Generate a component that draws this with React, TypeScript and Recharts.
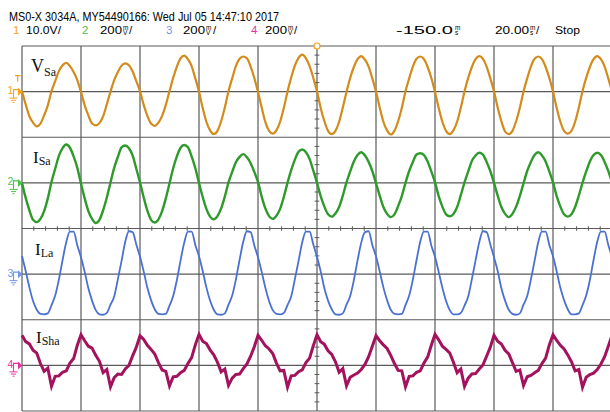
import React from 'react';
import {LineChart, Line, XAxis, YAxis, ReferenceLine, ReferenceDot} from 'recharts';

// scope capture: 20 ms/div, 10 div, one sample every 1.25 ms (16 per 50 Hz cycle)
// values are in screen divisions, measured from each channel's ground marker
const SAMPLE_MS = 1.25;

// ch1, V_Sa
const vSa = [
    0.01, -0.28, -0.54, -0.68, -0.76, -0.70, -0.52, -0.30, 0.01, 0.23, 0.45, 0.58, 0.63, 0.56, 0.43, 0.25,
    -0.01, -0.30, -0.52, -0.70, -0.74, -0.69, -0.54, -0.28, 0.00, 0.25, 0.43, 0.57, 0.62, 0.58, 0.44, 0.23,
    0.01, -0.29, -0.53, -0.70, -0.75, -0.68, -0.53, -0.29, 0.01, 0.30, 0.55, 0.73, 0.79, 0.71, 0.56, 0.29,
    0.00, -0.36, -0.66, -0.85, -0.93, -0.86, -0.65, -0.35, 0.01, 0.29, 0.56, 0.72, 0.77, 0.73, 0.55, 0.30,
    -0.01, -0.35, -0.67, -0.86, -0.92, -0.85, -0.66, -0.36, 0.00, 0.31, 0.57, 0.74, 0.81, 0.73, 0.56, 0.30,
    0.01, -0.36, -0.65, -0.86, -0.93, -0.86, -0.66, -0.35, -0.01, 0.30, 0.54, 0.71, 0.78, 0.70, 0.55, 0.29,
    0.00, -0.35, -0.66, -0.85, -0.94, -0.86, -0.65, -0.36, 0.01, 0.29, 0.55, 0.72, 0.77, 0.71, 0.54, 0.30,
    -0.01, -0.36, -0.66, -0.86, -0.93, -0.85, -0.66, -0.35, 0.00, 0.30, 0.54, 0.71, 0.78, 0.72, 0.55, 0.29,
    0.01, -0.35, -0.65, -0.87, -0.93, -0.86, -0.65, -0.36, 0.00, 0.29, 0.55, 0.72, 0.77, 0.71, 0.54, 0.30,
    0.00, -0.36, -0.66, -0.86, -0.92, -0.86, -0.66, -0.35, 0.01, 0.30, 0.54, 0.71, 0.78, 0.71, 0.55, 0.29,
    0.00,
];

// ch2, I_Sa
const iSa = [
    0.00, -0.33, -0.60, -0.81, -0.86, -0.79, -0.62, -0.34, 0.02, 0.31, 0.59, 0.76, 0.84, 0.77, 0.58, 0.33,
    -0.02, -0.34, -0.62, -0.79, -0.88, -0.81, -0.60, -0.32, 0.01, 0.33, 0.57, 0.78, 0.82, 0.76, 0.60, 0.31,
    0.01, -0.32, -0.61, -0.81, -0.87, -0.80, -0.62, -0.34, -0.01, 0.32, 0.58, 0.77, 0.83, 0.78, 0.58, 0.32,
    0.00, -0.31, -0.57, -0.74, -0.80, -0.73, -0.56, -0.30, 0.01, 0.24, 0.45, 0.57, 0.63, 0.56, 0.43, 0.24,
    0.02, -0.30, -0.56, -0.73, -0.79, -0.72, -0.57, -0.31, 0.00, 0.28, 0.51, 0.68, 0.73, 0.67, 0.52, 0.27,
    0.00, -0.29, -0.52, -0.69, -0.74, -0.67, -0.53, -0.28, 0.01, 0.25, 0.47, 0.61, 0.67, 0.60, 0.46, 0.26,
    -0.01, -0.28, -0.53, -0.68, -0.75, -0.69, -0.51, -0.29, 0.00, 0.26, 0.46, 0.62, 0.65, 0.61, 0.47, 0.25,
    0.01, -0.29, -0.52, -0.69, -0.73, -0.68, -0.53, -0.27, 0.01, 0.25, 0.48, 0.60, 0.66, 0.62, 0.46, 0.26,
    0.00, -0.28, -0.53, -0.68, -0.75, -0.68, -0.52, -0.29, -0.01, 0.26, 0.46, 0.61, 0.67, 0.60, 0.47, 0.25,
    0.01, -0.29, -0.52, -0.69, -0.74, -0.69, -0.53, -0.28, 0.00, 0.25, 0.47, 0.61, 0.66, 0.61, 0.46, 0.26,
    0.01,
];

// ch3, I_La
const iLa = [
    0.40, 0.07, -0.29, -0.59, -0.78, -0.87, -0.88, -0.86, -0.68, -0.47, -0.12, 0.31, 0.70, 0.93, 0.93, 0.63,
    0.37, 0.05, -0.31, -0.58, -0.79, -0.88, -0.89, -0.85, -0.67, -0.49, -0.11, 0.29, 0.71, 0.94, 0.92, 0.65,
    0.38, 0.06, -0.30, -0.57, -0.77, -0.87, -0.88, -0.87, -0.69, -0.48, -0.13, 0.30, 0.69, 0.93, 0.93, 0.64,
    0.39, 0.07, -0.29, -0.58, -0.78, -0.88, -0.89, -0.86, -0.67, -0.47, -0.12, 0.31, 0.71, 0.94, 0.92, 0.63,
    0.37, 0.05, -0.30, -0.59, -0.79, -0.87, -0.88, -0.85, -0.68, -0.49, -0.11, 0.29, 0.70, 0.93, 0.93, 0.65,
    0.38, 0.06, -0.31, -0.58, -0.77, -0.88, -0.89, -0.86, -0.67, -0.48, -0.13, 0.30, 0.69, 0.92, 0.94, 0.64,
    0.39, 0.06, -0.29, -0.57, -0.78, -0.87, -0.88, -0.87, -0.68, -0.47, -0.12, 0.31, 0.71, 0.93, 0.93, 0.63,
    0.38, 0.05, -0.30, -0.59, -0.79, -0.88, -0.88, -0.85, -0.69, -0.49, -0.11, 0.30, 0.70, 0.94, 0.92, 0.65,
    0.37, 0.07, -0.31, -0.58, -0.78, -0.87, -0.89, -0.86, -0.67, -0.48, -0.12, 0.29, 0.70, 0.93, 0.93, 0.64,
    0.39, 0.06, -0.30, -0.57, -0.77, -0.88, -0.88, -0.86, -0.68, -0.47, -0.13, 0.31, 0.71, 0.93, 0.93, 0.64,
    0.38,
];

// ch4, I_Sha
const iSha = [
    0.66, 0.52, 0.47, 0.33, 0.27, 0.04, -0.13, -0.06, -0.46, -0.24, -0.23, -0.15, -0.12, 0.05, 0.15, 0.44,
    0.67, 0.54, 0.42, 0.38, 0.22, 0.09, -0.16, -0.09, -0.47, -0.27, -0.19, -0.20, -0.08, 0.00, 0.21, 0.40,
    0.65, 0.57, 0.44, 0.35, 0.25, 0.06, -0.10, -0.13, -0.45, -0.25, -0.24, -0.16, -0.11, 0.04, 0.17, 0.45,
    0.68, 0.53, 0.48, 0.34, 0.23, 0.07, -0.14, -0.08, -0.44, -0.28, -0.20, -0.19, -0.07, 0.03, 0.20, 0.41,
    0.66, 0.55, 0.43, 0.36, 0.26, 0.05, -0.12, -0.11, -0.48, -0.23, -0.22, -0.14, -0.10, 0.06, 0.16, 0.43,
    0.67, 0.52, 0.46, 0.32, 0.24, 0.08, -0.15, -0.07, -0.45, -0.26, -0.21, -0.17, -0.09, 0.02, 0.19, 0.42,
    0.65, 0.54, 0.45, 0.37, 0.22, 0.04, -0.11, -0.12, -0.47, -0.24, -0.23, -0.15, -0.12, 0.05, 0.18, 0.44,
    0.68, 0.56, 0.42, 0.35, 0.27, 0.07, -0.16, -0.08, -0.46, -0.28, -0.19, -0.18, -0.08, 0.01, 0.20, 0.40,
    0.66, 0.53, 0.47, 0.33, 0.25, 0.06, -0.13, -0.10, -0.44, -0.25, -0.22, -0.16, -0.11, 0.04, 0.16, 0.45,
    0.67, 0.55, 0.44, 0.36, 0.23, 0.08, -0.12, -0.09, -0.48, -0.26, -0.20, -0.17, -0.09, 0.03, 0.19, 0.42,
    0.66,
];

const CHANNELS = [
    {key: 'ch1', num: '1', ground: 7, trace: '#d38b1b', mark: '#f5a21e', width: 2.2},
    {key: 'ch2', num: '2', ground: 5, trace: '#2f9a2c', mark: '#4cc244', width: 2.4},
    {key: 'ch3', num: '3', ground: 3, trace: '#4a70d2', mark: '#6f95f0', width: 1.8},
    {key: 'ch4', num: '4', ground: 1, trace: '#a3125c', mark: '#e9339f', width: 3},
];

const rows = vSa.map((v, i) => ({
    t: i * SAMPLE_MS,
    ch1: CHANNELS[0].ground + v,
    ch2: CHANNELS[1].ground + iSa[i],
    ch3: CHANNELS[2].ground + iLa[i],
    ch4: CHANNELS[3].ground + iSha[i],
}));

const X_DIVS = [0, 20, 40, 60, 80, 100, 120, 140, 160, 180, 200];
const Y_DIVS = [0, 1, 2, 3, 4, 5, 6, 7, 8];
const X_MINOR = Array.from({length: 49}, (_, i) => (i + 1) * 4).filter(x => x % 20 !== 0);
const Y_MINOR = Array.from({length: 39}, (_, i) => (i + 1) * 0.2).filter(y => Math.abs(y - Math.round(y)) > 0.01);

const GRID = '#5a5a5a';
const HEAD_FONT = '"Liberation Sans Narrow", "Liberation Sans", Arial, sans-serif';
const SERIF = '"Liberation Serif", "Times New Roman", serif';

const GroundTick = (props: any) => {
    const {y, payload} = props;
    const ch = CHANNELS.find(c => c.ground === payload.value);
    if (!ch) return null;
    const c = ch.mark;
    return (
        <g transform={`translate(0, ${y})`}>
            {ch.num === '1' && <path d="M15 -16 H20.5 M17.7 -16 V-10" stroke={c} strokeWidth={1.2} fill="none"/>}
            <text x={7.5} y={2.5} fontSize={10.5} fill={c} fontFamily={HEAD_FONT}>{ch.num}</text>
            <path d="M13.5 4 V-2 H18" stroke={c} strokeWidth={1.1} fill="none"/>
            <path d="M18 -4 L22.5 0 L18 4 Z" fill={c}/>
            <path d="M13.5 4 V6.5 M9.5 6.5 H17.5 M11 8.7 H16 M12.5 10.8 H14.5" stroke={c} strokeWidth={1} fill="none"/>
        </g>
    );
};

const Unit = ({x, top, bottom}: {x: number, top: string, bottom: string}) => (
    <g fontSize={6.5} fontFamily={HEAD_FONT}>
        <text x={x} y={29.5}>{top}</text>
        <text x={x} y={35}>{bottom}</text>
    </g>
);

const Header = () => (
    <svg width={610} height={46} style={{position: 'absolute', left: 0, top: 0}}>
        <text x={9} y={21} fontSize={12.8} fontFamily={HEAD_FONT} textLength={270} lengthAdjust="spacingAndGlyphs">
            MS0-X 3034A, MY54490166: Wed Jul 05 14:47:10 2017
        </text>
        <g fontSize={11.5} fontFamily={HEAD_FONT}>
            <text x={13} y={34} fill={CHANNELS[0].mark}>1</text>
            <text x={26} y={34} textLength={35} lengthAdjust="spacingAndGlyphs">10.0V/</text>
            <text x={82} y={34} fill={CHANNELS[1].mark}>2</text>
            <text x={100} y={34} textLength={22} lengthAdjust="spacingAndGlyphs">200</text>
            <Unit x={123} top="m" bottom="V"/>
            <text x={129} y={34}>/</text>
            <text x={166} y={34} fill={CHANNELS[2].mark}>3</text>
            <text x={183} y={34} textLength={22} lengthAdjust="spacingAndGlyphs">200</text>
            <Unit x={206} top="m" bottom="V"/>
            <text x={213} y={34}>/</text>
            <text x={251} y={34} fill={CHANNELS[3].mark}>4</text>
            <text x={265} y={34} textLength={22} lengthAdjust="spacingAndGlyphs">200</text>
            <Unit x={288} top="m" bottom="V"/>
            <text x={294} y={34}>/</text>
            <text x={396} y={34} textLength={57} lengthAdjust="spacingAndGlyphs">-150.0</text>
            <Unit x={455} top="m" bottom="s"/>
            <text x={495} y={34} textLength={34} lengthAdjust="spacingAndGlyphs">20.00</text>
            <Unit x={530} top="m" bottom="s"/>
            <text x={536} y={34}>/</text>
            <text x={555} y={34} textLength={25} lengthAdjust="spacingAndGlyphs">Stop</text>
        </g>
    </svg>
);

const TraceNames = () => (
    <svg width={610} height={412} style={{position: 'absolute', left: 0, top: 0, pointerEvents: 'none'}}>
        <g fontFamily={SERIF} fill="#111">
            <text x={31} y={72} fontSize={18}>V<tspan fontSize={12} dy={4}>Sa</tspan></text>
            <text x={33} y={163} fontSize={17}>I<tspan fontSize={12} dy={2}>Sa</tspan></text>
            <text x={35} y={255} fontSize={17}>I<tspan fontSize={12} dy={2}>La</tspan></text>
            <text x={36} y={343} fontSize={17}>I<tspan fontSize={12} dy={2}>Sha</tspan></text>
        </g>
    </svg>
);

const App = () => {
    return (
        <div style={{position: 'absolute', left: 0, top: 0, width: 610, height: 412, overflow: 'hidden', background: '#fff'}}>
            <LineChart width={640} height={412} data={rows} margin={{top: 46, right: 28, bottom: 1, left: 0}}>
                <XAxis dataKey="t" type="number" domain={[0, 200]} hide/>
                <YAxis type="number" domain={[0, 8]} ticks={[1, 3, 5, 7]} interval={0} width={22}
                       axisLine={false} tickLine={false} tick={<GroundTick/>}/>
                {X_DIVS.map(x => <ReferenceLine key={'gx' + x} x={x} stroke={GRID} strokeWidth={1.2}/>)}
                {Y_DIVS.map(y => <ReferenceLine key={'gy' + y} y={y} stroke={GRID} strokeWidth={1.2}/>)}
                {X_MINOR.map(x => (
                    <ReferenceLine key={'mx' + x} segment={[{x, y: 3.95}, {x, y: 4.05}]} stroke={GRID}/>
                ))}
                {Y_MINOR.map(y => (
                    <ReferenceLine key={'my' + y} segment={[{x: 99.2, y}, {x: 100.8, y}]} stroke={GRID}/>
                ))}
                {CHANNELS.map(ch => (
                    <Line key={ch.key} dataKey={ch.key} type={ch.key === 'ch4' ? 'linear' : 'monotone'}
                          stroke={ch.trace} strokeWidth={ch.width} dot={false} isAnimationActive={false}/>
                ))}
                <ReferenceDot x={100} y={8} r={3} fill="#fff" stroke={CHANNELS[0].mark} strokeWidth={1.2}/>
            </LineChart>
            <Header/>
            <TraceNames/>
        </div>
    );
};

export default App;
